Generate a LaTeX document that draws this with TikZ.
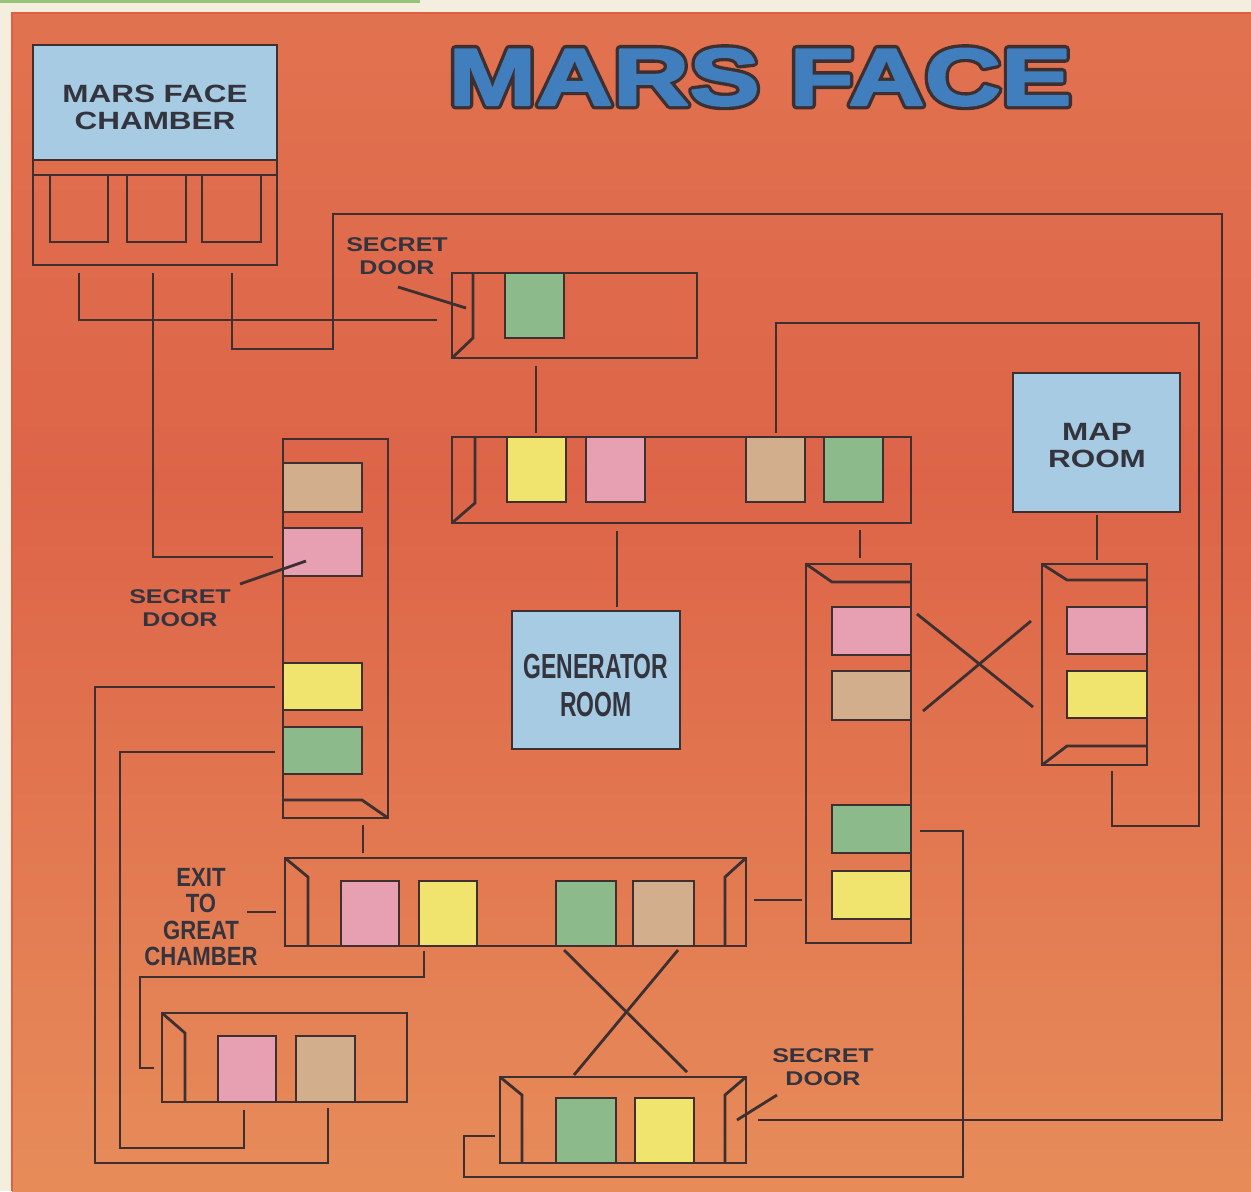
\documentclass[tikz,border=0pt]{standalone}
\usepackage{fontspec}
\usetikzlibrary{fit}
\setmainfont{Liberation Sans}
\newfontfamily\labfont{Liberation Sans}[FakeStretch=1.26]
\newfontfamily\condfont{Liberation Sans}[FakeStretch=0.66]
\newfontfamily\exitfont{Liberation Sans}[FakeStretch=0.84]
\newfontfamily\titlefont{Liberation Sans}[FakeStretch=1.31]
\newcommand\strokedtext[2]{\special{pdf:literal direct 2 Tr #1 w 1 j}#2\special{pdf:literal direct 0 Tr}}
\definecolor{linec}{RGB}{62,48,48}
\definecolor{txt}{RGB}{52,52,62}
\definecolor{lblue}{RGB}{166,203,226}
\definecolor{sqgreen}{RGB}{140,186,138}
\definecolor{sqyellow}{RGB}{240,228,110}
\definecolor{sqpink}{RGB}{230,160,178}
\definecolor{sqtan}{RGB}{210,174,140}
\definecolor{bgtop}{RGB}{230,138,92}
\definecolor{bgt2}{RGB}{226,118,82}
\definecolor{bgmid}{RGB}{221,100,72}
\definecolor{bgb2}{RGB}{230,136,88}
\definecolor{bgbot}{RGB}{238,170,102}
\definecolor{titleblue}{RGB}{64,126,190}
\definecolor{cream}{RGB}{244,238,222}
\definecolor{framec}{RGB}{222,96,66}
\definecolor{topgreen}{RGB}{150,196,120}
\pgfdeclareverticalshading{bgshade}{100bp}{color(0bp)=(bgbot); color(28bp)=(bgb2); color(55bp)=(bgmid); color(80bp)=(bgt2); color(100bp)=(bgtop)}
\begin{document}
\begin{tikzpicture}[x=0.02cm,y=-0.02cm,
  ln/.style={draw=linec, line width=1.6pt, line join=miter},
  box/.style={draw=linec, line width=1.6pt, inner sep=0pt, outer sep=0pt},
  bluebox/.style={box, fill=lblue},
  sqg/.style={box, fill=sqgreen},
  sqy/.style={box, fill=sqyellow},
  sqp/.style={box, fill=sqpink},
  sqt/.style={box, fill=sqtan},
  lab/.style={text=txt, align=center, inner sep=0pt, font=\labfont\bfseries\fontsize{14.2}{15.3}\selectfont},
  seclab/.style={text=txt, align=center, inner sep=0pt, font=\labfont\bfseries\fontsize{11.3}{12.8}\selectfont},
  condlab/.style={text=txt, align=center, inner sep=0pt, font=\condfont\bfseries\fontsize{19.8}{22}\selectfont},
  exitlab/.style={text=txt, align=center, inner sep=0pt, font=\exitfont\bfseries\fontsize{15}{15}\selectfont},
  titlestyle/.style={anchor=base, inner sep=0pt, font=\titlefont\bfseries\fontsize{46}{46}\selectfont}
]
\useasboundingbox (0,0) rectangle (1251,1191);
% background
\fill[cream] (0,0) rectangle (1251,1191);
\fill[topgreen] (0,0) rectangle (420,3);
\shade[shading=bgshade] (12,13) rectangle (1251,1191);
\draw[framec, line width=1.2pt] (12,1191) -- (12,13) -- (1251,13);

% title: dark stroked copy below, blue emboldened copy on top
\coordinate (tpos) at (760,105);
\node[titlestyle, text=linec] (titleO) at (tpos) {\strokedtext{5}{MARS FACE}};
\node[titlestyle, text=titleblue] (title) at (tpos) {\strokedtext{1.2}{MARS FACE}};

% Mars face chamber
\node[box, fit={(33,45)(277,265)}] (chamber) {};
\node[bluebox, fit={(33,45)(277,160)}] (chamberTop) {};
\draw[ln] (33,175) -- (277,175);
\draw[ln] (50,175) -- (50,242) -- (108,242) -- (108,175);
\draw[ln] (127,175) -- (127,242) -- (186,242) -- (186,175);
\draw[ln] (202,175) -- (202,242) -- (261,242) -- (261,175);
\node[lab] (chamberT) at (155,107.5) {MARS FACE\\CHAMBER};

% Room A (top)
\node[box, fit={(452,273)(697,358)}] (A) {};
\draw[ln] (473,273) -- (473,338) -- (452,358);
\node[sqg, fit={(505,273)(564,338)}] (A1) {};

% Room B
\node[box, fit={(452,437)(911,523)}] (B) {};
\draw[ln] (475,437) -- (475,503) -- (452,523);
\node[sqy, fit={(507,437)(566,502)}] (B1) {};
\node[sqp, fit={(586,437)(645,502)}] (B2) {};
\node[sqt, fit={(746,437)(805,502)}] (B3) {};
\node[sqg, fit={(824,437)(883,502)}] (B4) {};

% Generator room
\node[bluebox, fit={(512,611)(680,749)}] (gen) {};
\node[condlab] (genT) at (596,685.5) {GENERATOR\\ROOM};

% Map room
\node[bluebox, fit={(1013,373)(1180,512)}] (map) {};
\node[lab] (mapT) at (1097,445.5) {MAP\\ROOM};

% Room C
\node[box, fit={(806,564)(911,943)}] (C) {};
\draw[ln] (806,564) -- (832,582) -- (911,582);
\node[sqp, fit={(832,607)(911,655)}] (C1) {};
\node[sqt, fit={(832,671)(911,720)}] (C2) {};
\node[sqg, fit={(832,805)(911,853)}] (C3) {};
\node[sqy, fit={(832,871)(911,919)}] (C4) {};

% Room D
\node[box, fit={(1042,564)(1147,765)}] (D) {};
\draw[ln] (1042,564) -- (1067,580) -- (1147,580);
\draw[ln] (1042,765) -- (1067,746) -- (1147,746);
\node[sqp, fit={(1067,607)(1147,654)}] (D1) {};
\node[sqy, fit={(1067,671)(1147,718)}] (D2) {};

% Room E (left vertical)
\node[box, fit={(283,439)(388,818)}] (E) {};
\draw[ln] (283,800) -- (362,800) -- (388,818);
\node[sqt, fit={(283,463)(362,512)}] (E1) {};
\node[sqp, fit={(283,528)(362,576)}] (E2) {};
\node[sqy, fit={(283,663)(362,710)}] (E3) {};
\node[sqg, fit={(283,727)(362,774)}] (E4) {};

% Room G (bottom long)
\node[box, fit={(285,858)(746,946)}] (G) {};
\draw[ln] (285,858) -- (308,877) -- (308,946);
\draw[ln] (746,858) -- (725,877) -- (725,946);
\node[sqp, fit={(341,881)(399,946)}] (G1) {};
\node[sqy, fit={(419,881)(477,946)}] (G2) {};
\node[sqg, fit={(556,881)(616,946)}] (G3) {};
\node[sqt, fit={(633,881)(694,946)}] (G4) {};

% Room F (bottom left)
\node[box, fit={(162,1013)(407,1102)}] (F) {};
\draw[ln] (162,1013) -- (185,1033) -- (185,1102);
\node[sqp, fit={(218,1036)(276,1102)}] (F1) {};
\node[sqt, fit={(296,1036)(355,1102)}] (F2) {};

% Room H (bottom)
\node[box, fit={(500,1077)(746,1163)}] (H) {};
\draw[ln] (500,1077) -- (522,1095) -- (522,1163);
\draw[ln] (746,1077) -- (725,1095) -- (725,1163);
\node[sqg, fit={(556,1098)(616,1163)}] (H1) {};
\node[sqy, fit={(635,1098)(694,1163)}] (H2) {};

% labels
\node[seclab] (sd1) at (397,256) {SECRET\\DOOR};
\node[seclab] (sd2) at (180,608) {SECRET\\DOOR};
\node[seclab] (sd3) at (823,1067) {SECRET\\DOOR};
\node[exitlab] (exitT) at (201,917) {EXIT\\TO\\GREAT\\CHAMBER};

% connector end points
\coordinate (c1s) at (79,273);   \coordinate (c1e) at (437,320);
\coordinate (c2s) at (153,273);  \coordinate (c2e) at (273,557);
\coordinate (c3s) at (232,273);  \coordinate (c3e) at (758,1120);
\coordinate (abS) at (536,366);  \coordinate (abE) at (536,433);
\coordinate (bgS) at (617,531);  \coordinate (bgE) at (617,607);
\coordinate (bcS) at (860,530);  \coordinate (bcE) at (860,558);
\coordinate (bdS) at (776,433);  \coordinate (bdE) at (1112,771);
\coordinate (mdS) at (1097,515); \coordinate (mdE) at (1097,560);
\coordinate (chS) at (920,831);  \coordinate (chE) at (495,1136);
\coordinate (eyS) at (275,687);  \coordinate (eyE) at (328,1108);
\coordinate (egS) at (275,752);  \coordinate (egE) at (244,1110);
\coordinate (eGS) at (363,825);  \coordinate (eGE) at (363,853);
\coordinate (gcS) at (754,900);  \coordinate (gcE) at (802,900);
\coordinate (gfS) at (424,951);  \coordinate (gfE) at (154,1068);
\coordinate (exS) at (247,912);  \coordinate (exE) at (276,912);

% connectors
\draw[ln] (c1s) |- (c1e);
\draw[ln] (c2s) |- (c2e);
\draw[ln] (c3s) |- (333,349) |- (1222,214) |- (c3e);
\draw[ln] (abS) -- (abE);
\draw[ln] (bgS) -- (bgE);
\draw[ln] (bcS) -- (bcE);
\draw[ln] (bdS) |- (1199,323) |- (1112,826) -- (bdE);
\draw[ln] (mdS) -- (mdE);
\draw[ln] (chS) -| (963,1177) -| (464,1136) -- (chE);
\draw[ln] (eyS) -| (95,1163) -| (eyE);
\draw[ln] (egS) -| (120,1148) -| (egE);
\draw[ln] (eGS) -- (eGE);
\draw[ln] (gcS) -- (gcE);
\draw[ln] (gfS) |- (140,977) |- (gfE);
\draw[ln] (exS) -- (exE);
% crossings
\draw[ln] (917,614) -- (1033,707);
\draw[ln] (923,711) -- (1031,621);
\draw[ln] (564,950) -- (687,1072);
\draw[ln] (678,950) -- (574,1075);
% secret door leaders
\draw[ln] (398,287) -- (466,308);
\draw[ln] (240,584) -- (306,561);
\draw[ln] (777,1095) -- (737,1120);
\end{tikzpicture}
\end{document}
